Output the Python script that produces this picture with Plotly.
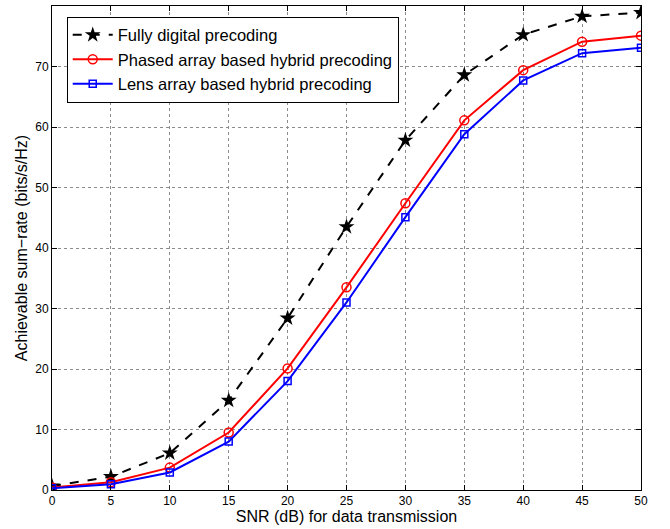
import plotly.graph_objects as go

snr = [0, 5, 10, 15, 20, 25, 30, 35, 40, 45, 50]
fully_digital = [0.65, 2.2, 6.1, 14.8, 28.4, 43.5, 57.8, 68.6, 75.25, 78.3, 78.9]
phased_array = [0.4, 1.3, 3.7, 9.5, 20.1, 33.5, 47.4, 61.1, 69.4, 74.1, 75.1]
lens_array = [0.3, 0.95, 2.9, 8.0, 18.0, 31.0, 45.1, 58.8, 67.7, 72.2, 73.1]

x_ticks = [0, 5, 10, 15, 20, 25, 30, 35, 40, 45, 50]
y_ticks = [0, 10, 20, 30, 40, 50, 60, 70, 80]

font_family = "Liberation Sans, Arial, sans-serif"

fig = go.Figure()
fig.add_trace(go.Scatter(
    x=snr, y=fully_digital, mode="lines+markers",
    name="Fully digital precoding",
    line=dict(color="black", width=2, dash="dash"),
    marker=dict(symbol="star", size=12, color="black"),
))
fig.add_trace(go.Scatter(
    x=snr, y=phased_array, mode="lines+markers",
    name="Phased array based hybrid precoding",
    line=dict(color="#ff0000", width=2),
    marker=dict(symbol="circle-open", size=9, color="#ff0000", line=dict(width=1.5)),
))
fig.add_trace(go.Scatter(
    x=snr, y=lens_array, mode="lines+markers",
    name="Lens array based hybrid precoding",
    line=dict(color="#0000ff", width=2),
    marker=dict(symbol="square-open", size=7, color="#0000ff", line=dict(width=1.5)),
))

axis_common = dict(
    showline=True, linecolor="black", linewidth=1, mirror="ticks",
    ticks="inside", ticklen=5, tickcolor="black",
    showgrid=True, gridcolor="#8c8c8c", griddash="dot", gridwidth=1,
    zeroline=False,
    tickfont=dict(family=font_family, size=12, color="black"),
)

fig.update_xaxes(
    range=[0, 50], tickvals=x_ticks, ticktext=[str(v) for v in x_ticks],
    title=dict(text="SNR (dB) for data transmission", font=dict(family=font_family, size=16, color="black"), standoff=3),
    **axis_common,
)
fig.update_yaxes(
    range=[0, 80], tickvals=y_ticks, ticktext=[str(v) for v in y_ticks],
    title=dict(text="Achievable sum\u2212rate (bits/s/Hz)", font=dict(family=font_family, size=16, color="black"), standoff=3),
    **axis_common,
)

fig.update_layout(
    width=670, height=529,
    margin=dict(l=52, r=29, t=6, b=39),
    paper_bgcolor="white", plot_bgcolor="white",
    font=dict(family=font_family, color="black"),
    legend=dict(
        x=0.025, y=0.978, xanchor="left", yanchor="top",
        bgcolor="white", bordercolor="black", borderwidth=1,
        font=dict(family=font_family, size=16.5, color="black"),
        tracegroupgap=0, itemwidth=40,
    ),
)

fig.write_html("out.html")
